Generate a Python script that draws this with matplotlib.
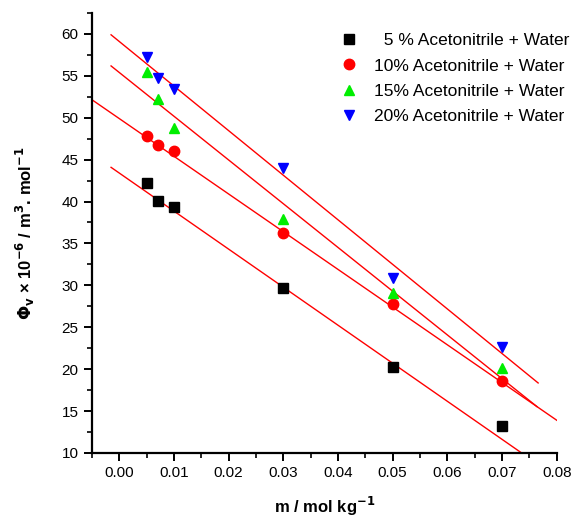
import matplotlib
matplotlib.use('Agg')
import matplotlib.pyplot as plt
import numpy as np

# === DADOS ===
m = [0.005, 0.007, 0.01, 0.03, 0.05, 0.07]
phi_5 = [42.2, 40.1, 39.4, 29.7, 20.2, 13.2]
phi_10 = [47.8, 46.7, 46.0, 36.3, 27.8, 18.6]
phi_15 = [55.5, 52.2, 48.8, 37.9, 29.1, 20.1]
phi_20 = [57.2, 54.8, 53.4, 44.0, 30.9, 22.6]

labels = ['  5 % Acetonitrile + Water', '10% Acetonitrile + Water',
          '15% Acetonitrile + Water', '20% Acetonitrile + Water']

# retas ajustadas (intercepto, inclinação, x inicial, x final)
intercepto = [43.4, 49.9, 55.4, 59.1]
inclinacao = [-454, -450, -522, -532]
x_ini = [-0.0015, -0.005, -0.0015, -0.0015]
x_fim = [0.075, 0.080, 0.0764, 0.0766]

plt.rcParams['font.family'] = ['Liberation Sans', 'DejaVu Sans']

fig = plt.figure(figsize=(5.71, 5.2), dpi=100)
ax = fig.add_axes([0.161, 0.129, 0.814, 0.846])

series = [phi_5, phi_10, phi_15, phi_20]
estilos = [('s', 'black', 6.5), ('o', 'red', 7.5), ('^', '#00ee00', 7.5), ('v', 'blue', 7.5)]

for b, a, x0, x1 in zip(intercepto, inclinacao, x_ini, x_fim):
    xs = np.array([x0, x1])
    ax.plot(xs, b + a * xs, color='red', linewidth=1.0, zorder=1)

for y, (mk, cor, ms), lab in zip(series, estilos, labels):
    ax.plot(m, y, linestyle='none', marker=mk, color=cor, markersize=ms,
            label=lab, zorder=3)

ax.set_xlim(-0.005, 0.08)
ax.set_ylim(10, 62.5)
ax.set_xticks(np.arange(0, 0.081, 0.01))
ax.set_xticks(np.arange(-0.005, 0.081, 0.005), minor=True)
ax.set_yticks(np.arange(10, 61, 5))
ax.set_yticks(np.arange(10, 62.6, 2.5), minor=True)
ax.xaxis.set_major_formatter(matplotlib.ticker.FormatStrFormatter('%.2f'))

for s in ['top', 'right']:
    ax.spines[s].set_visible(False)
for s in ['left', 'bottom']:
    ax.spines[s].set_linewidth(1.6)

ax.tick_params(which='major', direction='out', length=6, width=1.4, labelsize=11)
ax.tick_params(which='minor', direction='out', length=3.5, width=1.2)

ax.set_xlabel('m / mol kg$^{\\mathbf{-1}}$', fontsize=12, fontweight='bold', labelpad=11)
ax.set_ylabel('$\\mathbf{\\Phi_v}$ × 10$^{\\mathbf{-6}}$ / m$^{\\mathbf{3}}$. mol$^{\\mathbf{-1}}$',
              fontsize=12, fontweight='bold', labelpad=18)

ax.legend(loc='upper right', frameon=False, fontsize=12.5, handletextpad=0.45,
          borderaxespad=0.0, labelspacing=0.58, bbox_to_anchor=(1.042, 0.97))

fig.savefig('out.png', dpi=100)
